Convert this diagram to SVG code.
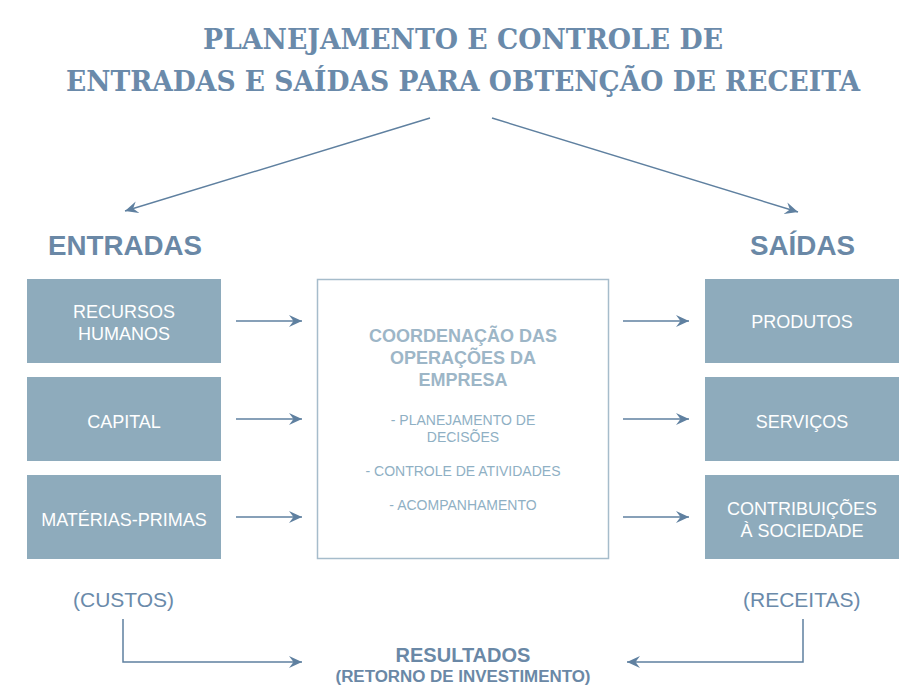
<svg xmlns="http://www.w3.org/2000/svg" width="924" height="699" viewBox="0 0 924 699">
<defs>
<marker id="ah" markerUnits="userSpaceOnUse" viewBox="-13 -6.5 13 13" refX="0" refY="0" markerWidth="13" markerHeight="13" orient="auto">
<path d="M0,0 L-13,-6 L-8.5,0 L-13,6 Z" fill="#5f80a0"/>
</marker>
<style>
.title{font-family:"DejaVu Serif","Liberation Serif",serif;font-weight:bold;font-size:28px;fill:#6a8aaa;text-anchor:start}
.head{font-family:"Liberation Sans",Arial,sans-serif;font-weight:bold;font-size:28px;fill:#6a88a6}
.box{fill:#8eabbc}
.bt{font-family:"Liberation Sans",Arial,sans-serif;font-size:18px;fill:#ffffff;text-anchor:middle}
.ct{font-family:"Liberation Sans",Arial,sans-serif;font-weight:bold;font-size:18px;fill:#9db6c7;text-anchor:middle}
.cs{font-family:"Liberation Sans",Arial,sans-serif;font-size:14px;fill:#8fb0c4;text-anchor:middle}
.lbl{font-family:"Liberation Sans",Arial,sans-serif;font-size:21px;fill:#6a8aaa}
.res{font-family:"Liberation Sans",Arial,sans-serif;font-weight:bold;fill:#6a88a6;text-anchor:middle}
.cn{fill:none;stroke:#5f80a0;stroke-width:1.5}
</style>
</defs>
<rect width="924" height="699" fill="#ffffff"/>
<g id="title">
<text class="title" x="203" y="49" textLength="520" lengthAdjust="spacingAndGlyphs">PLANEJAMENTO E CONTROLE DE</text>
<text class="title" x="66" y="91" textLength="794" lengthAdjust="spacingAndGlyphs">ENTRADAS E SAÍDAS PARA OBTENÇÃO DE RECEITA</text>
</g>
<g id="entradas-head"><text class="head" x="48" y="255" textLength="154" lengthAdjust="spacingAndGlyphs">ENTRADAS</text></g>
<g id="saidas-head"><text class="head" x="750" y="255" textLength="105" lengthAdjust="spacingAndGlyphs">SAÍDAS</text></g>
<g id="recursos-humanos"><rect class="box" x="27" y="279" width="194" height="84"/><text class="bt" x="124" y="318">RECURSOS</text><text class="bt" x="124" y="340">HUMANOS</text></g>
<g id="capital"><rect class="box" x="27" y="377" width="194" height="84"/><text class="bt" x="124" y="428">CAPITAL</text></g>
<g id="materias-primas"><rect class="box" x="27" y="475" width="194" height="84"/><text class="bt" x="124" y="526">MATÉRIAS-PRIMAS</text></g>
<g id="coordenacao">
<rect x="317.5" y="279.5" width="291" height="279" fill="#ffffff" stroke="#a6bccb" stroke-width="1.5"/>
<text class="ct" x="463" y="342">COORDENAÇÃO DAS</text>
<text class="ct" x="463" y="364">OPERAÇÕES DA</text>
<text class="ct" x="463" y="386">EMPRESA</text>
<text class="cs" x="463" y="425">- PLANEJAMENTO DE</text>
<text class="cs" x="463" y="442">DECISÕES</text>
<text class="cs" x="463" y="476">- CONTROLE DE ATIVIDADES</text>
<text class="cs" x="463" y="510">- ACOMPANHAMENTO</text>
</g>
<g id="produtos"><rect class="box" x="705" y="279" width="194" height="84"/><text class="bt" x="802" y="328">PRODUTOS</text></g>
<g id="servicos"><rect class="box" x="705" y="377" width="194" height="84"/><text class="bt" x="802" y="428">SERVIÇOS</text></g>
<g id="contribuicoes"><rect class="box" x="705" y="475" width="194" height="84"/><text class="bt" x="802" y="515">CONTRIBUIÇÕES</text><text class="bt" x="802" y="537">À SOCIEDADE</text></g>
<g id="custos"><text class="lbl" x="73" y="607">(CUSTOS)</text></g>
<g id="receitas"><text class="lbl" x="743" y="607">(RECEITAS)</text></g>
<g id="resultados">
<text class="res" x="463" y="662" font-size="20">RESULTADOS</text>
<text class="res" x="463" y="682" font-size="16" textLength="255" lengthAdjust="spacingAndGlyphs">(RETORNO DE INVESTIMENTO)</text>
</g>
<g id="connectors">
<line class="cn" x1="430" y1="118" x2="125" y2="211" marker-end="url(#ah)"/>
<line class="cn" x1="492" y1="118" x2="798" y2="212" marker-end="url(#ah)"/>
<line class="cn" x1="236" y1="321" x2="302" y2="321" marker-end="url(#ah)"/>
<line class="cn" x1="236" y1="419" x2="302" y2="419" marker-end="url(#ah)"/>
<line class="cn" x1="236" y1="517" x2="302" y2="517" marker-end="url(#ah)"/>
<line class="cn" x1="623" y1="321" x2="689" y2="321" marker-end="url(#ah)"/>
<line class="cn" x1="623" y1="419" x2="689" y2="419" marker-end="url(#ah)"/>
<line class="cn" x1="623" y1="517" x2="689" y2="517" marker-end="url(#ah)"/>
<polyline class="cn" points="123,619 123,662 302,662" marker-end="url(#ah)"/>
<polyline class="cn" points="803,619 803,662 627,662" marker-end="url(#ah)"/>
</g>
</svg>
